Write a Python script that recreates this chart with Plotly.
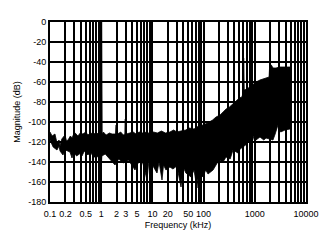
import plotly.graph_objects as go

# Upper envelope of the noise spectrum (frequency kHz, magnitude dB)
upper_freq = [0.1, 0.11, 0.125, 0.137, 0.15, 0.157, 0.17, 0.196, 0.21, 0.225, 0.25, 0.27, 0.29, 0.31, 0.35,
              0.39, 0.44, 0.5, 0.55, 0.62, 0.7, 0.8, 0.9, 0.96, 0.968, 0.975, 1.025, 1.032, 1.045, 1.1, 1.25,
              1.45, 1.63, 1.9, 1.94, 2.06, 2.1, 2.4, 2.7, 2.9, 2.93, 3.07, 3.1, 3.6, 4.2, 4.8, 5.5, 6.5,
              7.8, 9, 10.5, 12.5, 15, 18, 22, 26, 30, 36, 45, 52, 65, 80, 97, 120, 150, 175, 210, 240,
              275, 320, 375, 430, 500, 560, 600, 606, 622, 705, 800, 920, 1060, 1260, 1500, 1730, 1900,
              1950, 2100, 2270, 2600, 3000, 3500, 4200, 4870]
upper_db = [-110, -114, -112, -121, -118, -124, -117, -113, -119, -118, -114, -116, -112, -111, -114,
            -111, -112, -110, -113, -111, -112, -111, -112, -111, -57, 0, 0, -57, -112, -110, -113,
            -111, -112, -112, -103, -103, -112, -110, -113, -112, -97, -97, -112, -111, -110, -112, -110, -111,
            -110, -112, -110, -111, -109, -111, -110, -108, -110, -109, -108, -106, -107, -104, -103, -101, -98, -95, -93, -90,
            -87, -85, -82, -79, -76, -75, -70, -36, -68, -67, -65, -62, -60, -58, -57, -56, -55,
            -44, -43, -46, -46, -45, -45, -45, -45]

# Lower envelope of the noise spectrum
lower_freq = [0.1, 0.115, 0.137, 0.15, 0.157, 0.179, 0.2, 0.246, 0.269, 0.29, 0.33, 0.4, 0.42, 0.47, 0.55,
              0.62, 0.7, 0.83, 0.97, 0.985, 1.015, 1.03, 1.2, 1.49, 1.86, 2.2, 2.67, 3.4, 4.57, 5.5, 6.5,
              7.85, 8.5, 10, 12.3, 13.5, 15.4, 16.5, 18.4, 22, 25.2, 30, 36.2, 40, 45, 56.8, 65, 74.3,
              80, 97, 110, 122, 153, 200, 240, 274, 330, 375, 470, 514, 588, 700, 806, 900, 1000, 1055,
              1263, 1500, 1655, 2266, 2500, 2837, 3200, 3890, 4870]
lower_db = [-118, -125, -128, -124, -129, -133, -128, -130, -136, -130, -134, -131, -134, -129, -133,
            -130, -135, -135, -133, -152, -152, -134, -132, -137, -143, -137, -141, -138, -148, -139, -141,
            -158, -140, -143, -151, -140, -158, -143, -148, -145, -147, -144, -165, -145, -151, -155, -148, -166,
            -150, -155, -148, -152, -148, -138, -140, -135, -137, -128, -131, -127, -125, -122, -118, -119, -111, -118,
            -115, -118, -116, -118, -112, -103, -110, -108, -107]

x_tickvals = [m * 10 ** e for e in range(-1, 4) for m in range(1, 10)] + [10000]
x_labels = {0.1: "0.1", 0.2: "0.2", 0.5: "0.5", 1: "1", 2: "2", 3: "3", 5: "5", 10: "10", 20: "20",
            50: "50", 100: "100", 1000: "1000", 10000: "10000"}
y_tickvals = [0, -20, -40, -60, -80, -100, -120, -140, -160, -180]

def lab(v):
    for k, t in x_labels.items():
        if abs(v - k) < 1e-9 * max(1, k):
            return t
    return ""

x_ticktext = [lab(v) for v in x_tickvals]

poly_x = upper_freq + lower_freq[::-1]
poly_y = upper_db + lower_db[::-1]

fig = go.Figure()
fig.add_trace(go.Scatter(x=poly_x, y=poly_y, mode="lines", fill="toself",
                         fillcolor="black", line=dict(color="black", width=0.8),
                         hoverinfo="skip", showlegend=False))

font = dict(family="Liberation Sans, Arial, sans-serif", size=9, color="black")
fig.update_layout(
    width=332, height=243,
    margin=dict(l=50, r=26, t=22, b=41),
    paper_bgcolor="white", plot_bgcolor="white",
    font=font, showlegend=False,
    xaxis=dict(type="log", range=[-1, 4], tickvals=x_tickvals, ticktext=x_ticktext,
               showgrid=True, gridcolor="black", gridwidth=1.5, zeroline=False,
               showline=True, linecolor="black", linewidth=2, mirror=True,
               ticks="", tickfont=font, ticklabelstandoff=2,
               title=dict(text="Frequency (kHz)", font=font, standoff=4)),
    yaxis=dict(range=[-180, 0], tickvals=y_tickvals, ticktext=[str(v) for v in y_tickvals],
               showgrid=True, gridcolor="black", gridwidth=1.5, zeroline=False,
               showline=True, linecolor="black", linewidth=2, mirror=True,
               ticks="", tickfont=font,
               title=dict(text="Magnitude (dB)", font=font, standoff=6)),
)

fig.write_html("out.html")
